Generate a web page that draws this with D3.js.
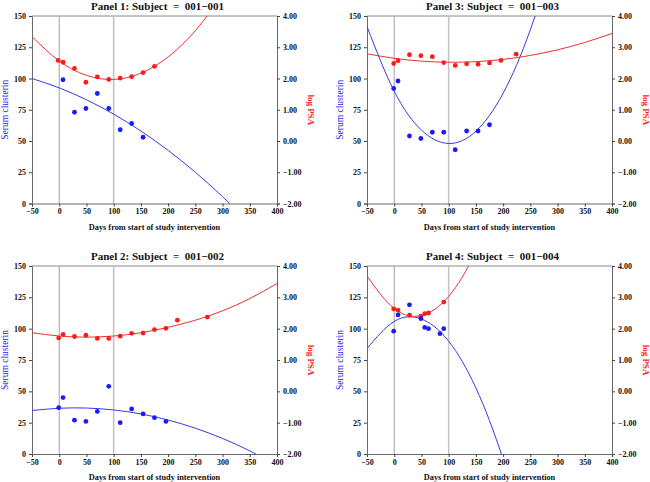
<!DOCTYPE html>
<html><head><meta charset="utf-8">
<script src="https://cdn.jsdelivr.net/npm/d3@7/dist/d3.min.js"></script>
<style>
body{margin:0;background:#fff;}
svg{display:block;}
text{font-family:"Liberation Serif","DejaVu Serif",serif;}
.ttl{white-space:pre;}
</style></head>
<body>
<script>
// ---------- data ----------
const panelTitles = ["Panel 1: Subject  =  001\u2212001","Panel 2: Subject  =  001\u2212002","Panel 3: Subject  =  001\u2212003","Panel 4: Subject  =  001\u2212004"];
const xTicks = [-50,0,50,100,150,200,250,300,350,400];
const xTickLabels = ["\u221250","0","50","100","150","200","250","300","350","400"];
const leftTicks = [0,25,50,75,100,125,150];
const rightTicks = [-2,-1,0,1,2,3,4];
const rightTickLabels = ["\u22122.00","\u22121.00","0.00","1.00","2.00","3.00","4.00"];
const refDays = [0,100];

// Panel 1
const p1PsaDays = [-2,7,28,49,70,91,112,133,154,175];
const p1Psa = [2.58,2.52,2.32,1.88,2.05,1.97,2.01,2.06,2.19,2.39];
const p1ClusDays = [7,28,49,70,91,112,133,154];
const p1Clus = [99,73,76,88,76,59,64,53];
// Panel 2
const p2PsaDays = [-1,7,28,49,70,91,112,133,154,175,196,217,272];
const p2Psa = [1.70,1.82,1.75,1.79,1.69,1.69,1.76,1.85,1.86,1.97,2.01,2.27,2.37];
const p2ClusDays = [-1,7,28,49,70,91,112,133,154,175,196];
const p2Clus = [37,45,27,26,34,54,25,36,32,29,26];
// Panel 3
const p3PsaDays = [-1,7,28,49,70,91,112,133,154,175,196,224];
const p3Psa = [2.48,2.57,2.76,2.73,2.70,2.51,2.42,2.47,2.46,2.50,2.58,2.78];
const p3ClusDays = [-1,7,28,49,70,91,112,133,154,175];
const p3Clus = [92,98,54,52,57,57,43,58,58,63];
// Panel 4
const p4PsaDays = [-1,7,28,49,56,63,91];
const p4Psa = [2.63,2.59,2.43,2.40,2.48,2.50,2.85];
const p4ClusDays = [-1,7,28,49,56,63,84,91];
const p4Clus = [98,111,119,108,101,100,96,100];

// fitted curves, read at these days
const fitDays = [-50,0,50,100,150,200,250,300,350,400];
const p1ClusFit = [100,92.5,83,71.5,58,42.5,25,5.5,-16,-39.5];
const p1PsaFit = [3.34,2.56,2.10,1.97,2.17,2.69,3.53,4.70,6.20,8.02];
const p2ClusFit = [34.66,36.5,36.67,35.16,31.98,27.1,20.6,12.4,2.5,-9.3];
const p2PsaFit = [1.87,1.765,1.73,1.765,1.87,2.045,2.27,2.57,2.96,3.44];
const p3ClusFit = [141.5,89.8,58.7,48.0,57.8,88.2,139.0,210.4,302,414.5];
const p3PsaFit = [2.79,2.646,2.556,2.52,2.539,2.611,2.738,2.918,3.153,3.441];
const p4ClusFit = [84.1,105.8,107.7,90.0,52.7,-4.3,-80.9,-177.2,-293.1,-418];
const p4PsaFit = [3.68,2.64,2.42,3.03,4.47,6.73,9.82,13.73,18.46,24.0];

const panels = [
 {title:panelTitles[0], col:0,row:0, psaD:p1PsaDays, psa:p1Psa, clD:p1ClusDays, cl:p1Clus, clFit:p1ClusFit, psaFit:p1PsaFit},
 {title:panelTitles[1], col:0,row:1, psaD:p2PsaDays, psa:p2Psa, clD:p2ClusDays, cl:p2Clus, clFit:p2ClusFit, psaFit:p2PsaFit},
 {title:panelTitles[2], col:1,row:0, psaD:p3PsaDays, psa:p3Psa, clD:p3ClusDays, cl:p3Clus, clFit:p3ClusFit, psaFit:p3PsaFit},
 {title:panelTitles[3], col:1,row:1, psaD:p4PsaDays, psa:p4Psa, clD:p4ClusDays, cl:p4Clus, clFit:p4ClusFit, psaFit:p4PsaFit}
];

// ---------- layout ----------
const W=650,H=482;
const colLeft=[32,367], colRight=[277,612];
const rowTop=[16,266], rowBottom=[203.5,454];
const BLUE="#1a1aff", RED="#ff1a1a", BLUE_L="#3a3ae6", RED_L="#f03030";

const svg=d3.select("body").append("svg").attr("width",W).attr("height",H);

panels.forEach((p,i)=>{
  const L=colLeft[p.col], R=colRight[p.col], T=rowTop[p.row], B=rowBottom[p.row];
  const x=d3.scaleLinear().domain([-50,400]).range([L,R]);
  const yL=d3.scaleLinear().domain([0,150]).range([B,T]);
  const yR=d3.scaleLinear().domain([-2,4]).range([B,T]);
  const g=svg.append("g");
  const cid="clip"+i;
  svg.append("clipPath").attr("id",cid).append("rect").attr("x",L).attr("y",T).attr("width",R-L).attr("height",B-T);

  // frame top
  g.append("line").attr("x1",L).attr("x2",R).attr("y1",T).attr("y2",T).attr("stroke","#8a8a8a").attr("stroke-width",1);

  // reference lines
  g.selectAll(".ref").data(refDays).enter().append("line")
   .attr("x1",d=>x(d)).attr("x2",d=>x(d)).attr("y1",T).attr("y2",B)
   .attr("stroke",(d,j)=>j===0?"#a0a0a0":"#c4c4c4").attr("stroke-width",(d,j)=>j===0?1:1.6);

  // axes
  const xa=d3.axisBottom(x).tickValues(xTicks).tickFormat((d,j)=>xTickLabels[j]).tickSize(3).tickPadding(2);
  const ya=d3.axisLeft(yL).tickValues(leftTicks).tickSize(3).tickPadding(3);
  const yb=d3.axisRight(yR).tickValues(rightTicks).tickFormat((d,j)=>rightTickLabels[j]).tickSize(3).tickPadding(3);
  [ [xa,`translate(0,${B})`], [ya,`translate(${L},0)`], [yb,`translate(${R},0)`] ].forEach(([ax,tr])=>{
    const a=g.append("g").attr("transform",tr).call(ax);
    a.select(".domain").attr("stroke","#6a6a6a");
    a.selectAll(".tick line").attr("stroke","#444");
    a.selectAll("text").attr("font-size","8px").attr("font-weight","bold").attr("fill","#111")
      .attr("font-family","'Liberation Serif',serif");
  });

  // fitted curves
  const line=(ys)=>d3.line().x(d=>x(d)).y((d,j)=>ys(j)).curve(d3.curveNatural);
  const cg=g.append("g").attr("clip-path",`url(#${cid})`);
  cg.append("path").datum(fitDays).attr("d",line(j=>yL(p.clFit[j]))).attr("fill","none").attr("stroke",BLUE_L).attr("stroke-width",1);
  cg.append("path").datum(fitDays).attr("d",line(j=>yR(p.psaFit[j]))).attr("fill","none").attr("stroke",RED_L).attr("stroke-width",1);

  // points
  g.selectAll(".ps").data(p.psaD).enter().append("circle")
   .attr("cx",d=>x(d)).attr("cy",(d,j)=>yR(p.psa[j])).attr("r",2.4).attr("fill",RED);
  g.selectAll(".cs").data(p.clD).enter().append("circle")
   .attr("cx",d=>x(d)).attr("cy",(d,j)=>yL(p.cl[j])).attr("r",2.4).attr("fill",BLUE);

  // titles
  g.append("text").attr("class","ttl").attr("x",(L+R)/2+3).attr("y",T-6).attr("text-anchor","middle")
   .attr("font-size","11px").attr("font-weight","bold").attr("fill","#111").text(p.title);
  g.append("text").attr("x",(L+R)/2).attr("y",B+26).attr("text-anchor","middle")
   .attr("font-size","8.3px").attr("font-weight","bold").attr("fill","#111").text("Days from start of study intervention");
  g.append("text").attr("transform",`translate(${L-24},${(T+B)/2}) rotate(-90)`).attr("text-anchor","middle")
   .attr("font-size","9.5px").attr("fill",BLUE).text("Serum clusterin");
  g.append("text").attr("transform",`translate(${R+31},${(T+B)/2}) rotate(90)`).attr("text-anchor","middle")
   .attr("font-size","9px").attr("font-weight","bold").attr("fill",RED).text("log PSA");
});
</script>
</body></html>
